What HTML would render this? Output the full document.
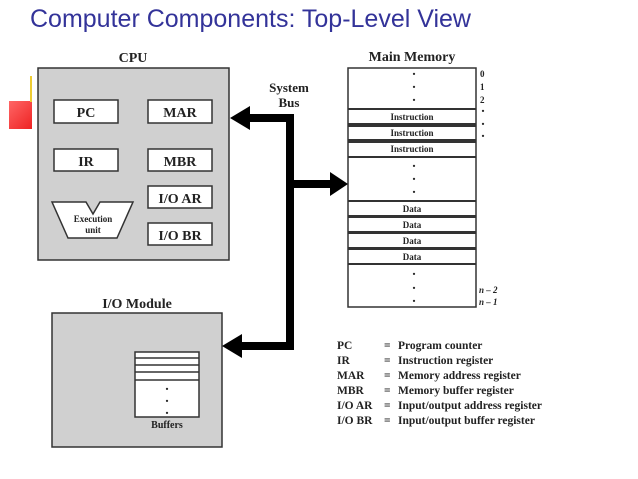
<!DOCTYPE html>
<html><head><style>
body{margin:0;width:638px;height:479px;background:#fff;overflow:hidden;position:relative;font-family:"Liberation Serif",serif}
.t{position:absolute;font-weight:bold;color:#222;white-space:nowrap}
</style></head><body>
<div style="position:absolute;left:30px;top:5px;font:25px 'Liberation Sans',sans-serif;color:#333399">Computer Components: Top-Level View</div>
<div style="position:absolute;left:9px;top:101px;width:23px;height:28px;background:linear-gradient(135deg,#f66,#e22)"></div>
<div style="position:absolute;left:30px;top:76px;width:2px;height:26px;background:#ec3"></div>
<svg width="638" height="479" style="position:absolute;left:0;top:0" font-family="Liberation Serif,serif" font-weight="bold" fill="#222">
<g stroke="#333" stroke-width="1.5">
<rect x="38" y="68" width="191" height="192" fill="#d0d0d0"/>
<rect x="54" y="100" width="64" height="23" fill="#fff"/>
<rect x="148" y="100" width="64" height="23" fill="#fff"/>
<rect x="54" y="149" width="64" height="22" fill="#fff"/>
<rect x="148" y="149" width="64" height="22" fill="#fff"/>
<rect x="148" y="186" width="64" height="22" fill="#fff"/>
<rect x="148" y="223" width="64" height="22" fill="#fff"/>
<polygon points="52,202 86,202 93,214 100,202 133,202 117,238 68,238" fill="#fff"/>
<rect x="52" y="313" width="170" height="134" fill="#d0d0d0"/>
<rect x="135" y="352" width="64" height="65" fill="#fff"/>
<path d="M135 358H199M135 365H199M135 372H199M135 380H199" fill="none"/>
<rect x="348" y="68" width="128" height="239" fill="#fff"/>
<path d="M348 109H476M348 124H476M348 126H476M348 140H476M348 142H476M348 157H476M348 201H476M348 216H476M348 217H476M348 232H476M348 233H476M348 248H476M348 249H476M348 264H476" fill="none" stroke-width="2"/>
</g>
<g fill="#000">
<rect x="286" y="114" width="8" height="236"/>
<rect x="245" y="114" width="49" height="8"/>
<polygon points="230,118 250,106 250,130"/>
<rect x="294" y="180" width="40" height="8"/>
<polygon points="348,184 330,172 330,196"/>
<rect x="236" y="342" width="58" height="8"/>
<polygon points="222,346 242,334 242,358"/>
</g>
<g text-anchor="middle" font-size="14">
<text x="133" y="62">CPU</text>
<text x="86" y="117">PC</text><text x="180" y="117">MAR</text>
<text x="86" y="166">IR</text><text x="180" y="166">MBR</text>
<text x="180" y="203">I/O AR</text><text x="180" y="240">I/O BR</text>
<text x="289" y="92" font-size="13">System</text><text x="289" y="107" font-size="13">Bus</text>
<text x="412" y="61">Main Memory</text>
<text x="137" y="308">I/O Module</text>
</g>
<g text-anchor="middle" font-size="9">
<text x="93" y="222">Execution</text><text x="93" y="233">unit</text>
<text x="167" y="428" font-size="10">Buffers</text>
<text x="412" y="120">Instruction</text><text x="412" y="136">Instruction</text><text x="412" y="152">Instruction</text>
<text x="412" y="212">Data</text><text x="412" y="228">Data</text><text x="412" y="244">Data</text><text x="412" y="260">Data</text>
</g>
<g font-size="14" text-anchor="middle">
<text x="414" y="75">.</text><text x="414" y="88">.</text><text x="414" y="101">.</text>
<text x="414" y="167">.</text><text x="414" y="180">.</text><text x="414" y="193">.</text>
<text x="414" y="275">.</text><text x="414" y="289">.</text><text x="414" y="302">.</text>
<text x="167" y="390">.</text><text x="167" y="402">.</text><text x="167" y="414">.</text>
<text x="483" y="112">.</text><text x="483" y="125">.</text><text x="483" y="137">.</text>
</g>
<g font-size="9">
<text x="480" y="77">0</text><text x="480" y="90">1</text><text x="480" y="103">2</text>
<text x="479" y="293" font-style="italic">n – 2</text><text x="479" y="305" font-style="italic">n – 1</text>
</g>
<g font-size="11.5">
<text x="337" y="349">PC</text><text x="384" y="349">=</text><text x="398" y="349">Program counter</text>
<text x="337" y="364">IR</text><text x="384" y="364">=</text><text x="398" y="364">Instruction register</text>
<text x="337" y="379">MAR</text><text x="384" y="379">=</text><text x="398" y="379">Memory address register</text>
<text x="337" y="394">MBR</text><text x="384" y="394">=</text><text x="398" y="394">Memory buffer register</text>
<text x="337" y="409">I/O AR</text><text x="384" y="409">=</text><text x="398" y="409">Input/output address register</text>
<text x="337" y="424">I/O BR</text><text x="384" y="424">=</text><text x="398" y="424">Input/output buffer register</text>
</g>
</svg>
</body></html>
